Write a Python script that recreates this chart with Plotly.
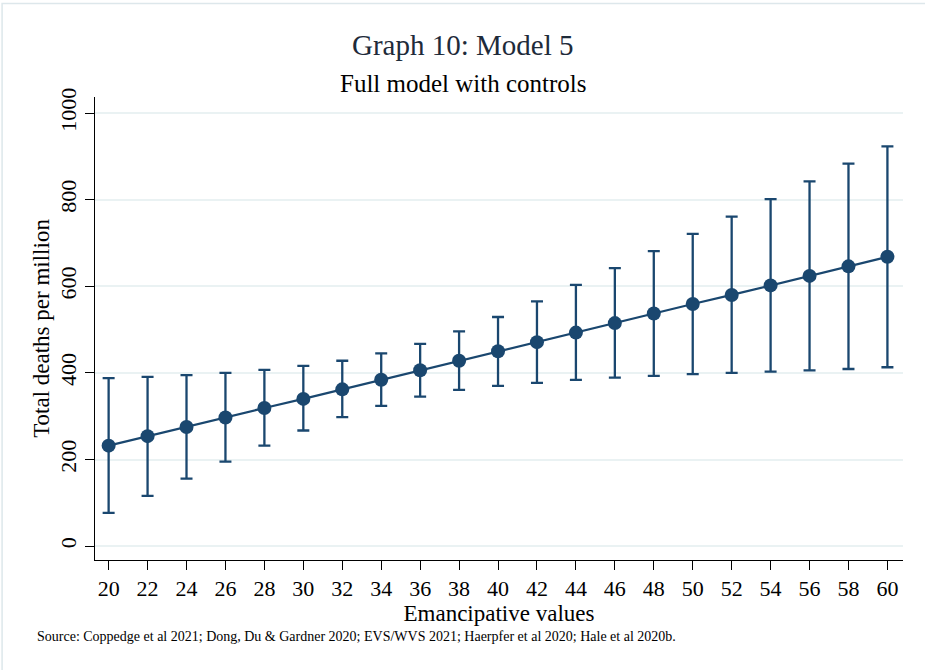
import plotly.graph_objects as go

emancipative = [20, 22, 24, 26, 28, 30, 32, 34, 36, 38, 40, 42, 44, 46, 48, 50, 52, 54, 56, 58, 60]
estimate = [232, 254, 275, 297, 319, 340, 362, 384, 406, 428, 450, 471, 493, 515, 537, 559, 580, 602, 624, 646, 668]
ci_upper = [388, 391, 395, 400, 407, 416, 428, 445, 467, 496, 529, 565, 603, 642, 681, 721, 761, 801, 842, 883, 923]
ci_lower = [77, 116, 156, 195, 232, 267, 298, 324, 345, 361, 370, 377, 384, 389, 393, 397, 400, 403, 406, 409, 413]
y_ticks = [0, 200, 400, 600, 800, 1000]

navy = "#1a476f"
font = "Liberation Serif"

err_plus = [u - e for u, e in zip(ci_upper, estimate)]
err_minus = [e - l for e, l in zip(estimate, ci_lower)]

fig = go.Figure()
fig.add_trace(go.Scatter(
    x=emancipative, y=estimate, mode="lines+markers",
    line=dict(color=navy, width=2.2),
    marker=dict(color=navy, size=14),
    error_y=dict(type="data", symmetric=False, array=err_plus, arrayminus=err_minus,
                 color=navy, thickness=2.3, width=6),
    showlegend=False,
))

fig.update_layout(
    width=925, height=670,
    margin=dict(l=95, r=22, t=97, b=110),
    paper_bgcolor="white", plot_bgcolor="white",
    font=dict(family=font, color="black"),
    xaxis=dict(range=[19.3, 60.8], tickvals=emancipative, ticks="outside", ticklen=9,
               tickcolor="black", showline=True, linecolor="black", linewidth=1,
               showgrid=False, zeroline=False, tickfont=dict(size=22, family=font),
               title=dict(text="Emancipative values", font=dict(size=23, family=font), standoff=2)),
    yaxis=dict(range=[-32, 1037], tickvals=y_ticks, ticks="outside", ticklen=9,
               tickcolor="black", showline=True, linecolor="black", linewidth=1,
               showgrid=True, gridcolor="#eaf2f3", gridwidth=1.5, zeroline=False,
               tickangle=-90, tickfont=dict(size=22, family=font),
               title=dict(text="Total deaths per million", font=dict(size=23, family=font), standoff=0)),
)

fig.add_annotation(text="Graph 10: Model 5", xref="paper", yref="paper",
                   x=0.456, y=1.112, xanchor="center", yanchor="middle", showarrow=False,
                   font=dict(size=29, family=font, color="#1e2b3a"))
fig.add_annotation(text="Full model with controls", xref="paper", yref="paper",
                   x=0.456, y=1.030, xanchor="center", yanchor="middle", showarrow=False,
                   font=dict(size=25, family=font, color="black"))

fig.add_annotation(
    text="Source: Coppedge et al 2021; Dong, Du & Gardner 2020; EVS/WVS 2021; Haerpfer et al 2020; Hale et al 2020b.",
    xref="paper", yref="paper", x=-0.0743, y=-0.166, xanchor="left", yanchor="middle",
    showarrow=False, font=dict(size=14, family=font, color="black"))

fig.add_shape(type="rect", xref="paper", yref="paper",
              x0=-0.115, x1=1.1, y0=-0.3, y1=1.202,
              line=dict(color="#dde7eb", width=1.5), layer="above")

fig.write_html("out.html")
